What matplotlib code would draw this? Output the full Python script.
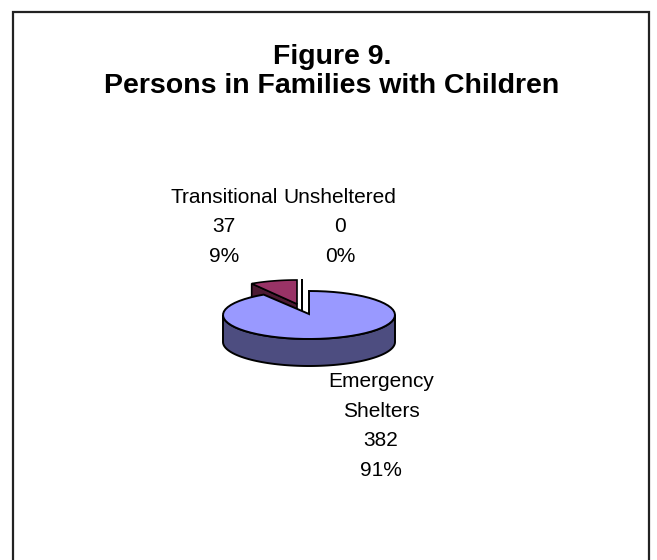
import numpy as np
import matplotlib.pyplot as plt
from matplotlib.patches import Polygon, Rectangle

plt.rcParams['font.family'] = ['Liberation Sans', 'DejaVu Sans']

categories = ['Emergency\nShelters', 'Transitional', 'Unsheltered']
values = [382, 37, 0]
percents = ['91%', '9%', '0%']
face_colors = ['#9999ff', '#993366', '#ffffe0']
side_colors = ['#4d4d80', '#4d1a33', '#808070']

# pie geometry, in pixels
cx, cy = 309, 315
rx, ry = 86, 24
depth = 27
explode = [(0, 0), (-12, -11), (-7, -12)]


def wedge(start, stop, dx, dy):
    t = np.linspace(start, stop, 60)
    return cx + dx + rx * np.sin(t), cy + dy - ry * np.cos(t)


fig = plt.figure(figsize=(6.57, 5.6), dpi=100)
ax = fig.add_axes([0, 0, 1, 1])
ax.set_xlim(0, 657)
ax.set_ylim(560, 0)
ax.axis('off')

# frame runs off the bottom of the picture
ax.add_patch(Rectangle((12.5, 12), 636, 570, fc='white', ec='#222222', lw=1.6))

ax.text(332, 57, 'Figure 9.', ha='center', va='center', fontsize=20.5, fontweight='bold')
ax.text(332, 86, 'Persons in Families with Children', ha='center', va='center', fontsize=20.5, fontweight='bold')

angles = np.cumsum([0] + values) / sum(values) * 2 * np.pi

# small slices behind the big one
for i in [1, 2]:
    dx, dy = explode[i]
    x, y = wedge(angles[i], angles[i + 1], dx, dy)
    px, py = cx + dx, cy + dy
    ax.add_patch(Polygon([(x[0], y[0]), (px, py), (px, py + depth), (x[0], y[0] + depth)],
                         fc=side_colors[i], ec='black', lw=1.2, zorder=2))
    ax.add_patch(Polygon(np.r_[[(px, py)], np.c_[x, y]], fc=face_colors[i], ec='black', lw=1.2, zorder=3))

# big slice, outer wall then top
t = np.linspace(np.pi / 2, 3 * np.pi / 2, 80)
xs, ys = cx + rx * np.sin(t), cy - ry * np.cos(t)
ax.add_patch(Polygon(np.r_[np.c_[xs, ys], np.c_[xs, ys + depth][::-1]],
                     fc=side_colors[0], ec='black', lw=1.4, zorder=4))
x, y = wedge(angles[0], angles[1], *explode[0])
ax.add_patch(Polygon(np.r_[[(cx, cy - 1)], np.c_[x, y]], fc=face_colors[0], ec='black', lw=1.4, zorder=5))

label_pos = [(381, 426), (224, 227), (340, 227)]
for i in range(3):
    ax.text(label_pos[i][0], label_pos[i][1], '%s\n%d\n%s' % (categories[i], values[i], percents[i]),
            ha='center', va='center', fontsize=15, linespacing=1.72)

fig.savefig('out.png', dpi=100, facecolor='white')
